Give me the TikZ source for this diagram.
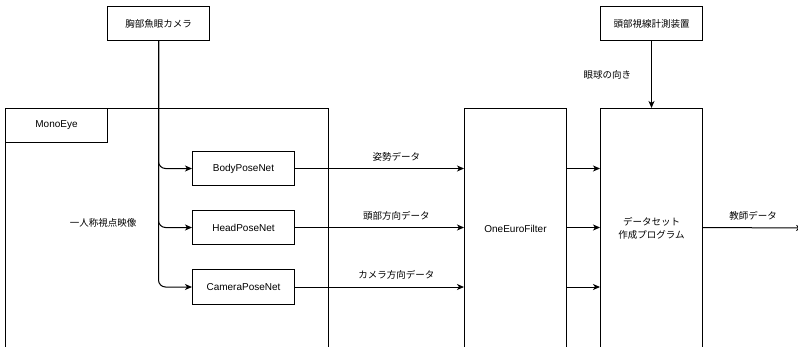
\documentclass[tikz,border=0pt]{standalone}
\usepackage{fontspec}
\setmainfont{Liberation Sans}
\newfontfamily\jp{Noto Sans CJK JP}
\usetikzlibrary{arrows.meta}
\begin{document}
\begin{tikzpicture}[x=1pt,y=-1pt,
  box/.style={draw,line width=1pt,minimum width=102pt,minimum height=34pt,inner sep=0pt,font=\fontsize{10}{12}\selectfont,anchor=north west},
  tall/.style={draw,line width=1pt,minimum width=102pt,minimum height=240pt,inner sep=0pt,font=\fontsize{10}{12}\selectfont,anchor=north west,align=center},
  lbl/.style={font=\jp\fontsize{9.5}{12}\selectfont,inner sep=0pt},
  arr/.style={line width=1pt,-{Stealth[length=7pt,width=6pt,inset=2pt]}},
  conn/.style={arr,rounded corners=7pt}]
\useasboundingbox[fill=white] (0,0) rectangle (798,346);
% container
\node[draw,line width=1pt,minimum width=323pt,minimum height=260pt,inner sep=0pt,anchor=north west] (mono) at (5,108) {};
\node[box] (monolbl) at (5,108) {MonoEye};
% sources
\node[box,font=\jp\fontsize{9.5}{12}\selectfont] (cam) at (107,6) {胸部魚眼カメラ};
\node[box,font=\jp\fontsize{9.5}{12}\selectfont] (eye) at (600,6) {頭部視線計測装置};
% nets
\node[box] (body) at (192,151) {BodyPoseNet};
\node[box] (head) at (192,210) {HeadPoseNet};
\node[box,minimum height=35pt] (campose) at (192,269) {CameraPoseNet};
% filter and program
\node[tall] (filt) at (464,108) {OneEuroFilter};
\node[tall,font=\jp\fontsize{9.5}{12.5}\selectfont] (prog) at (600,108) {データセット\\作成プログラム};
\coordinate (out) at (803,228);
% label
\node[lbl] (fpv) at (103,223) {一人称視点映像};
% connectors
\draw[conn] (cam.south) |- (body.west);
\draw[conn] (cam.south) |- (head.west);
\draw[conn] (cam.south) |- (campose.west);
\draw[arr] (body.east) -- (filt.west |- body.east) node[lbl,pos=0.6,above=7pt] {姿勢データ};
\draw[arr] (head.east) -- (filt.west |- head.east) node[lbl,pos=0.6,above=7pt] {頭部方向データ};
\draw[arr] (campose.east) -- (filt.west |- campose.east) node[lbl,pos=0.6,above=7pt] {カメラ方向データ};
\draw[arr] (filt.east |- body.east) -- (prog.west |- body.east);
\draw[arr] (filt.east |- head.east) -- (prog.west |- head.east);
\draw[arr] (filt.east |- campose.east) -- (prog.west |- campose.east);
\draw[arr] (eye.south) -- (prog.north) node[lbl,midway,left=20pt] {眼球の向き};
\draw[arr] (prog.east |- head.east) -- (out) node[lbl,pos=0.5,above=7pt] {教師データ};
\end{tikzpicture}
\end{document}
